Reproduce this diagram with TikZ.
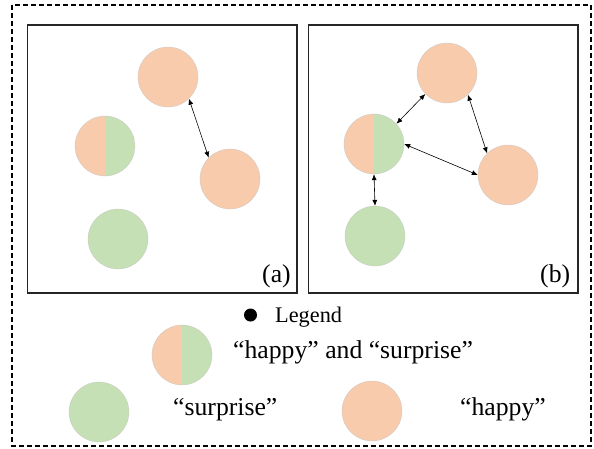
\documentclass[tikz,border=0pt]{standalone}
\usepackage{fontspec}
\setmainfont{Liberation Serif}
\usepackage{tikz}
\usetikzlibrary{arrows.meta, positioning, calc}
\definecolor{happyc}{RGB}{248, 203, 173}
\definecolor{surpc}{RGB}{197, 224, 180}

\begin{document}
\begin{tikzpicture}[
  x=1pt, y=-1pt,
  emo/.style={circle, minimum size=60pt, inner sep=0pt, draw=black!22, line width=0.3pt},
  happy/.style={emo, fill=happyc},
  surp/.style={emo, fill=surpc},
  mixed/.style={emo, path picture={
    \fill[happyc] (path picture bounding box.south west) rectangle (path picture bounding box.north);
    \fill[surpc] (path picture bounding box.south) rectangle (path picture bounding box.north east);}},
  link/.style={{Latex[length=6pt,width=5pt]}-{Latex[length=6pt,width=5pt]}, line width=0.6pt},
  panel/.style={draw=black!85, line width=1.5pt},
  txt/.style={inner sep=0pt, anchor=base west, font=\fontsize{25.7}{30}\selectfont}
]
  \useasboundingbox (0,0) rectangle (594,448);

  % Frames
  \draw[line width=1.2pt, dash pattern=on 5pt off 3pt] (12,5) rectangle (591,446);
  \draw[panel] (27.5,25) rectangle (297,293);
  \draw[panel] (308.5,25) rectangle (578,293);

  % Panel (a)
  \node[happy] (aTop) at (168,77) {};
  \node[mixed] (aMix) at (105,146) {};
  \node[happy] (aRight) at (230,179) {};
  \node[surp] (aGreen) at (118,239) {};
  \draw[link] (aTop.-46) -- (aRight.135);
  \node[txt] (aLab) at (262,282) {(a)};

  % Panel (b)
  \node[happy] (bTop) at (447,73) {};
  \node[mixed] (bMix) at (374,144) {};
  \node[happy] (bRight) at (508,175) {};
  \node[surp] (bGreen) at (375,236) {};
  \draw[link] (bMix.42) -- (bTop.224);
  \draw[link] (bTop.-46) -- (bRight.134);
  \draw[link] (bMix.east) -- (bRight.west);
  \draw[link] (bMix.south) -- (bGreen.north);
  \node[txt] (bLab) at (540,282) {(b)};

  % Legend
  \node[circle, fill=black, minimum size=13pt, inner sep=0pt] (dot) at (250.5,315) {};
  \node[txt, font=\fontsize{22.3}{26}\selectfont] (legend) at (275,322) {Legend};
  \node[mixed] (lMix) at (182,355) {};
  \node[txt] (lMixTxt) at (233,358) {“happy” and “surprise”};
  \node[surp] (lGreen) at (99,412) {};
  \node[txt] (lGreenTxt) at (173,415) {“surprise”};
  \node[happy] (lHappy) at (372,411) {};
  \node[txt] (lHappyTxt) at (460,415) {“happy”};
\end{tikzpicture}
\end{document}
